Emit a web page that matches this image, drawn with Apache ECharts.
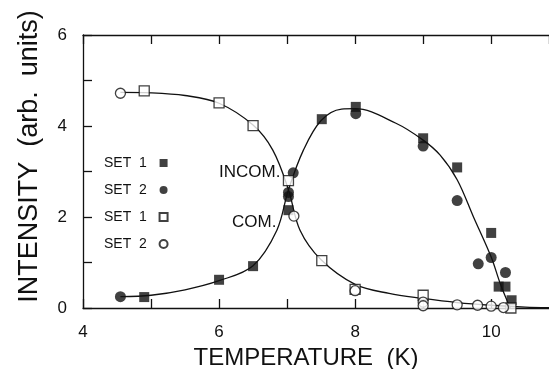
<!DOCTYPE html>
<html>
<head>
<meta charset="utf-8">
<script src="https://cdn.jsdelivr.net/npm/echarts@6/dist/echarts.min.js"></script>
<style>
  html, body { margin: 0; padding: 0; background: #fff; }
  #chart { width: 549px; height: 369px; }
</style>
</head>
<body>
<div id="chart"></div>
<script>
// Incommensurate phase, filled symbols
const incomSet1 = [[4.90,0.24],[6.0,0.62],[6.5,0.92],[7.02,2.15],[7.51,4.15],[8.01,4.42],[9.0,3.73],[9.5,3.09],[10.0,1.65],[10.11,0.47],[10.21,0.47],[10.3,0.17]];
const incomSet2 = [[4.55,0.25],[7.02,2.45],[7.02,2.54],[7.09,2.97],[8.01,4.27],[9.0,3.56],[9.5,2.36],[9.81,0.97],[10.0,1.11],[10.21,0.78]];
// Commensurate phase, open symbols
const comSet1 = [[4.90,4.77],[6.0,4.51],[6.5,4.01],[7.02,2.80],[7.51,1.04],[8.0,0.41],[9.0,0.28],[10.29,0.0]];
const comSet2 = [[4.55,4.72],[7.1,2.02],[8.0,0.38],[9.0,0.13],[9.0,0.05],[9.5,0.07],[9.8,0.06],[10.0,0.04],[10.18,0.01]];
// Guide-to-the-eye curves
const comCurve = [[4.55,4.74],[5.0,4.73],[5.5,4.67],[6.0,4.50],[6.5,4.02],[6.79,3.47],[7.02,2.6],[7.19,1.71],[7.5,1.06],[8.0,0.52],[8.5,0.32],[9.0,0.21],[9.5,0.12],[10.0,0.06],[10.5,0.02],[10.85,0.01]];
const incomCurve = [[4.55,0.25],[5.0,0.28],[5.5,0.40],[6.0,0.60],[6.5,0.93],[6.85,1.71],[7.02,2.6],[7.24,3.47],[7.5,4.12],[7.8,4.37],[8.0,4.38],[8.6,4.06],[9.0,3.69],[9.25,3.36],[9.5,2.82],[9.74,2.0],[10.0,1.12],[10.13,0.55],[10.25,0.1],[10.28,0]];
// Axis ranges and labelled ticks
const xRange = [4, 10.85];
const yRange = [0, 6];
const xTickLabels = [4, 6, 8, 10];
const yTickLabels = [0, 2, 4, 6];

const FONT = 'Liberation Sans';
const INK = '#111';

const chart = echarts.init(document.getElementById('chart'), null, { renderer: 'canvas' });

const axisCommon = {
  axisLine: { show: true, lineStyle: { color: INK, width: 1.3 } },
  axisTick: { show: true, inside: true, length: 9, lineStyle: { color: INK, width: 1.3 } },
  splitLine: { show: false }
};

const markerSeries = (name, data, symbol, filled, size) => ({
  name, type: 'scatter', data, symbol, symbolSize: size, z: 5,
  itemStyle: filled
    ? { color: INK, borderColor: INK, borderWidth: 0 }
    : { color: '#fff', borderColor: INK, borderWidth: 1.3 }
});

const curveSeries = (data) => ({
  type: 'line', data, smooth: 0.35, showSymbol: false, symbol: 'none', silent: true, z: 3,
  lineStyle: { color: INK, width: 1.3 }
});

chart.setOption({
  animation: false,
  backgroundColor: '#fff',
  grid: { left: 83, top: 35, right: 0, bottom: 61, containLabel: false, outerBoundsMode: 'none' },
  xAxis: [
    Object.assign({
      type: 'value', min: xRange[0], max: xRange[1], interval: 1,
      position: 'bottom',
      axisLabel: {
        show: true, showMaxLabel: false, margin: 16, color: INK, fontSize: 17, fontFamily: FONT,
        formatter: v => xTickLabels.includes(v) ? String(v) : ''
      },
      name: 'TEMPERATURE  (K)', nameLocation: 'middle', nameGap: 37,
      nameTextStyle: { color: INK, fontSize: 24, fontFamily: FONT, padding: [0, 20, 0, 0] }
    }, axisCommon),
    Object.assign({
      type: 'value', min: xRange[0], max: xRange[1], interval: 1,
      position: 'top', axisLabel: { show: false }
    }, axisCommon)
  ],
  yAxis: Object.assign({
    type: 'value', min: yRange[0], max: yRange[1], interval: 1,
    axisLabel: {
      show: true, margin: 16, color: INK, fontSize: 17, fontFamily: FONT,
      formatter: v => yTickLabels.includes(v) ? String(v) : ''
    },
    name: 'INTENSITY  (arb.  units)', nameLocation: 'middle', nameGap: 40, nameRotate: 90,
    nameTextStyle: { color: INK, fontSize: 27, fontFamily: FONT, padding: [0, 0, 0, 30] }
  }, axisCommon),
  legend: {
    orient: 'vertical', left: 99, top: 151, align: 'right',
    itemWidth: 8, itemHeight: 8, itemGap: 13,
    data: ['INCOM. SET 1', 'INCOM. SET 2', 'COM. SET 1', 'COM. SET 2'],
    formatter: n => n.replace(/^.*SET (\d)$/, 'SET  $1  '),
    textStyle: { color: INK, fontSize: 14, fontFamily: FONT, lineHeight: 14 },
    selectedMode: false
  },
  graphic: [
    { type: 'text', left: 219, top: 164, style: { text: 'INCOM.', fontSize: 17, fontFamily: FONT, fill: INK } },
    { type: 'text', left: 232, top: 214, style: { text: 'COM.', fontSize: 17, fontFamily: FONT, fill: INK } }
  ],
  series: [
    curveSeries(comCurve),
    curveSeries(incomCurve),
    markerSeries('INCOM. SET 1', incomSet1, 'rect', true, 10),
    markerSeries('INCOM. SET 2', incomSet2, 'circle', true, 11),
    markerSeries('COM. SET 1', comSet1, 'rect', false, 10),
    markerSeries('COM. SET 2', comSet2, 'circle', false, 10)
  ]
});
</script>
</body>
</html>
